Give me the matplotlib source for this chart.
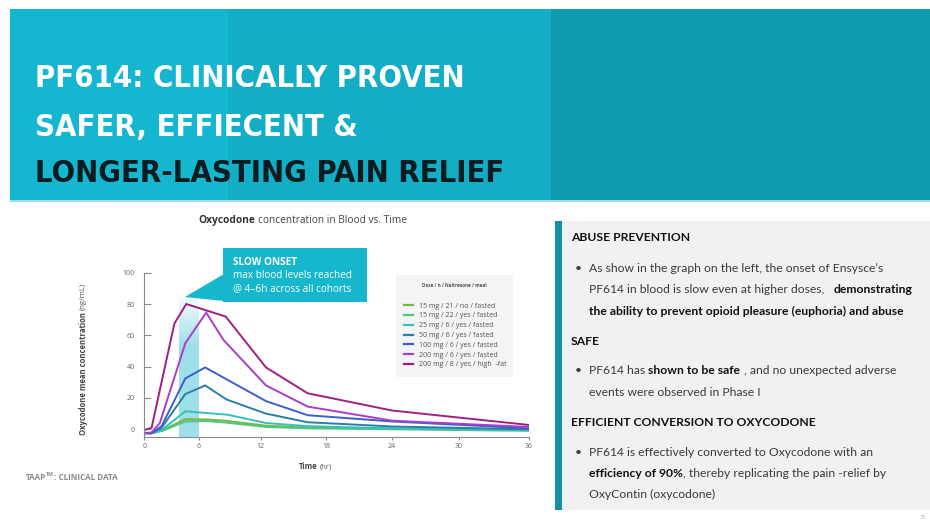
import numpy as np
import matplotlib
matplotlib.use('Agg')
import matplotlib.pyplot as plt
from matplotlib import font_manager as fm
from matplotlib.patches import Rectangle, Polygon

# ---- data ----
labels = ['15 mg / 21 / no / fasted', '15 mg / 22 / yes / fasted', '25 mg / 6 / yes / fasted',
          '50 mg / 6 / yes / fasted', '100 mg / 6 / yes / fasted', '200 mg / 6 / yes / fasted',
          '200 mg / 8 / yes / high  -fat']
colors = ['#7bb83a', '#4fc587', '#35bfbf', '#2a7ea8', '#3a5fcf', '#a73ecb', '#a11f80']

t_15a = [0, 0.8, 2.0, 4.5, 6.7, 8.6, 12.5, 16.3, 24, 36]
c_15a = [-2.5, -2.5, -0.5, 6.5, 6.3, 5.5, 2.3, 1.2, 0.4, -0.5]
t_15b = [0, 0.8, 2.0, 4.5, 6.7, 8.6, 12.5, 16.3, 24, 36]
c_15b = [-2.5, -2.5, -1.0, 5.0, 5.3, 4.3, 1.5, 0.6, 0.0, -1.0]
t_25 = [0, 0.8, 2.0, 4.5, 8.8, 12.5, 16.3, 24, 36]
c_25 = [-2.5, -2.5, 0.0, 11.5, 9.3, 4.0, 2.0, 0.6, -0.5]
t_50 = [0, 0.8, 1.9, 4.5, 6.6, 8.7, 12.5, 16.3, 24, 36]
c_50 = [-2.5, -2.5, 1.0, 22.5, 28.0, 19.0, 10.0, 4.5, 1.8, 0.0]
t_100 = [0, 0.8, 1.9, 4.5, 6.6, 12.5, 16.3, 24, 36]
c_100 = [-2.5, -2.5, 2.0, 32.5, 39.5, 18.0, 9.0, 5.0, 0.6]
t_200a = [0, 0.8, 1.7, 4.5, 6.7, 8.4, 12.5, 16.3, 24, 36]
c_200a = [-2.5, -2.0, 4.0, 55, 74.5, 57, 28, 14.5, 5.5, 1.5]
t_200b = [0, 0.8, 3.3, 4.6, 8.6, 12.5, 16.3, 24, 36]
c_200b = [-0.5, 1.0, 67.5, 80, 72, 39.5, 23, 12, 2.8]

series = [(t_15a, c_15a), (t_15b, c_15b), (t_25, c_25), (t_50, c_50),
          (t_100, c_100), (t_200a, c_200a), (t_200b, c_200b)]

x_ticks = [0, 6, 12, 18, 24, 30, 36]
x_tick_px = [144.3, 199.0, 260.5, 326.3, 392.0, 458.7, 528.5]  # uneven spacing of the original axis
y_ticks = [0, 20, 40, 60, 80, 100]
onset_band = (3.8, 6.05)

W, H = 930, 521


def fx(x):
    return x / W


def fy(y):
    return 1 - y / H


fig = plt.figure(figsize=(9.3, 5.21), dpi=100)
fig.patch.set_facecolor('white')
R = fig.canvas.get_renderer()


def run(x, y, parts, size, family, va='baseline'):
    sp = 0.27 * size * 100 / 72
    for s, w, c in parts:
        lead = len(s) - len(s.lstrip(' '))
        trail = len(s) - len(s.rstrip(' '))
        x += lead * sp
        t = fig.text(fx(x), fy(y), s.strip(' '), fontsize=size, fontweight=w,
                     family=family, color=c, va=va, ha='left')
        x += t.get_window_extent(R).width + trail * sp
    return x


# ---- header banner ----
fig.patches.append(Rectangle((fx(10), fy(200)), (228 - 10) / W, 191 / H,
                             transform=fig.transFigure, color='#15b7d0', lw=0))
fig.patches.append(Rectangle((fx(228), fy(200)), (551 - 228) / W, 191 / H,
                             transform=fig.transFigure, color='#13adc6', lw=0))
fig.patches.append(Rectangle((fx(551), fy(200)), (W - 551) / W, 191 / H,
                             transform=fig.transFigure, color='#109aae', lw=0))
fig.patches.append(Rectangle((fx(10), fy(201.5)), (W - 10) / W, 1.5 / H,
                             transform=fig.transFigure, color='#9fdbe6', lw=0))

# pick the narrowest face available for the condensed headline
head_prop = fm.FontProperties(family='Liberation Sans', weight='bold')
narrow = [f for f in fm.fontManager.ttflist
          if ('Narrow' in f.name or 'Condensed' in f.name or str(f.stretch) in
              ('condensed', 'semi-condensed', 'extra-condensed', 'ultra-condensed'))]
narrow_bold = [f for f in narrow if f.weight in ('bold', 700, 'semibold', 600, 'demibold')]
pick = narrow_bold or narrow
if pick:
    head_prop = fm.FontProperties(fname=pick[0].fname)

head_lines = [('PF614: CLINICALLY PROVEN', 'white', 76),
              ('SAFER, EFFIECENT &', 'white', 125),
              ('LONGER-LASTING PAIN RELIEF', '#0a1c1f', 171)]
probe = fig.text(0, 0, head_lines[2][0], fontproperties=head_prop, fontsize=30)
w30 = probe.get_window_extent(R).width
probe.remove()
hs = min(30 * 470 / w30, 40)
cap = 0.72 * hs * 100 / 72
for s, c, yc in head_lines:
    t = fig.text(fx(35), fy(yc + cap / 2), s, fontproperties=head_prop, color=c)
    t.set_fontsize(hs)

# ---- chart ----
cf = 'Open Sans'
y0, y1 = -5, 100
left_px, right_px = 144.3, 528.5
top_px = 429.3 - 100 * 1.566
bot_px = 429.3 + 5 * 1.566
ax = fig.add_axes([fx(left_px), fy(bot_px), (right_px - left_px) / W, (bot_px - top_px) / H])
ax.set_facecolor('none')


def fwd(v):
    return np.interp(v, x_ticks, x_tick_px)


def inv(v):
    return np.interp(v, x_tick_px, x_ticks)


ax.set_xscale('function', functions=(fwd, inv))

# onset band with fading top
grad = np.zeros((200, 2, 4))
band_rgb = matplotlib.colors.to_rgb('#9fdfe9')
yy = np.linspace(y0, 88, 200)
alpha = np.clip((88 - yy) / 35, 0, 1)
grad[:, :, :3] = band_rgb
grad[:, :, 3] = alpha[:, None]
ax.imshow(grad, extent=[onset_band[0], onset_band[1], y0, 88], origin='lower',
          aspect='auto', zorder=0.5, interpolation='bilinear')

for (t, c), col, lab in zip(series, colors, labels):
    ax.plot(t, c, color=col, lw=1.4, label=lab, solid_joinstyle='miter', zorder=2)

ax.set_xlim(0, 36)
ax.set_ylim(y0, y1)
ax.set_xticks(x_ticks)
ax.set_yticks(y_ticks)
ax.xaxis.set_minor_locator(matplotlib.ticker.NullLocator())
for s in ['top', 'right']:
    ax.spines[s].set_visible(False)
for s in ['left', 'bottom']:
    ax.spines[s].set_color('#8a8a8a')
    ax.spines[s].set_linewidth(0.8)
ax.tick_params(axis='y', direction='in', length=5, width=0.8, color='#8a8a8a',
               pad=7, labelsize=5, labelcolor='#666666')
ax.tick_params(axis='x', direction='out', length=2.5, width=0.8, color='#8a8a8a',
               pad=2, labelsize=5, labelcolor='#666666')
for lbl in ax.get_xticklabels() + ax.get_yticklabels():
    lbl.set_family(cf)

leg = ax.legend(loc='upper left', bbox_to_anchor=(fx(396), fy(373), (513 - 396) / W, (373 - 275) / H),
                bbox_transform=fig.transFigure, mode='expand', frameon=True, fancybox=False,
                facecolor='#f4f4f4', edgecolor='none', framealpha=1,
                prop={'family': cf, 'size': 5}, labelcolor='#555555',
                title='Dose / n / Naltrexone / meal\n\n',
                title_fontproperties={'family': cf, 'size': 3.3, 'weight': 'bold'},
                handlelength=1.3, handletextpad=0.8, labelspacing=0.4, borderpad=1.2,
                borderaxespad=0)
leg.get_title().set_color('#555555')
for ln in leg.get_lines():
    ln.set_linewidth(1.6)

# callout
callout = '#16b6cd'
fig.patches.append(Rectangle((fx(223), fy(302)), (367 - 223) / W, (302 - 248) / H,
                             transform=fig.transFigure, color=callout, lw=0, zorder=5))
fig.patches.append(Polygon([(fx(185), fy(297)), (fx(224), fy(274)), (fx(224), fy(301))],
                           closed=True, transform=fig.transFigure, color=callout, lw=0, zorder=5))
fig.text(fx(233), fy(265), 'SLOW ONSET', fontsize=7.2, fontweight='bold', family=cf,
         color='white', zorder=6)
fig.text(fx(233), fy(278.5), 'max blood levels reached', fontsize=7.2, family=cf,
         color='white', zorder=6)
fig.text(fx(233), fy(291), '@ 4\u20136h across all cohorts', fontsize=7.2, family=cf,
         color='white', zorder=6)

# chart title and axis labels
run(198, 223, [('Oxycodone', 'bold', '#333333'),
               (' concentration in Blood vs. Time', 'normal', '#444444')], 7.3, cf)
run(299, 469, [('Time', 'bold', '#444444'), (' (hr)', 'normal', '#555555')], 5.5, cf)

yl = fig.text(fx(83), fy(435), 'Oxycodone mean concentration', rotation=90, fontsize=5.5,
              fontweight='bold', family=cf, color='#444444', ha='center', va='bottom')
hgt = yl.get_window_extent(R).height
fig.text(fx(83), fy(435 - hgt - 2.5), '(ng/mL)', rotation=90, fontsize=5.5,
         family=cf, color='#555555', ha='center', va='bottom')

x_end = run(26, 480, [('TAAP', 'bold', '#8a8a8a')], 5.8, cf)
x_end = run(x_end, 476, [('TM', 'bold', '#8a8a8a')], 3.6, cf)
run(x_end, 480, [(': CLINICAL DATA', 'bold', '#8a8a8a')], 5.8, cf)

# ---- right text panel ----
fig.patches.append(Rectangle((fx(555), fy(510)), (W - 555) / W, (510 - 221) / H,
                             transform=fig.transFigure, color='#f1f1f1', lw=0))
fig.patches.append(Rectangle((fx(555), fy(510)), 7 / W, (510 - 221) / H,
                             transform=fig.transFigure, color='#13909f', lw=0))

pf = 'Lato'
sz = 8.7
dk = '#111111'
nm = '#3a3a3a'
run(571, 241, [('ABUSE PREVENTION', 'bold', dk)], sz, pf)
fig.text(fx(575), fy(272), '\u2022', fontsize=sz, family=pf, color=nm)
run(589, 272, [('As show in the graph on the left, the onset of Ensysce\u2019s', 'normal', nm)], sz, pf)
run(589, 293, [('PF614 in blood is slow even at higher doses,   ', 'normal', nm),
               ('demonstrating', 'bold', dk)], sz, pf)
run(589, 315, [('the ability to prevent opioid pleasure (euphoria) and abuse', 'bold', dk)], sz, pf)
run(571, 345, [('SAFE', 'bold', dk)], sz, pf)
fig.text(fx(575), fy(374), '\u2022', fontsize=sz, family=pf, color=nm)
run(589, 374, [('PF614 has ', 'normal', nm), ('shown to be safe', 'bold', dk),
               (' , and no unexpected adverse', 'normal', nm)], sz, pf)
run(589, 396, [('events were observed in Phase I', 'normal', nm)], sz, pf)
run(571, 426, [('EFFICIENT CONVERSION TO OXYCODONE', 'bold', dk)], sz, pf)
fig.text(fx(575), fy(456), '\u2022', fontsize=sz, family=pf, color=nm)
run(589, 456, [('PF614 is effectively converted to Oxycodone with an', 'normal', nm)], sz, pf)
run(589, 477, [('efficiency of 90%', 'bold', dk),
               (', thereby replicating the pain -relief by', 'normal', nm)], sz, pf)
run(589, 498, [('OxyContin (oxycodone)', 'normal', nm)], sz, pf)

fig.text(fx(920), fy(519), '35', fontsize=4, family=pf, color='#bbbbbb')

fig.savefig('out.png', dpi=100)
